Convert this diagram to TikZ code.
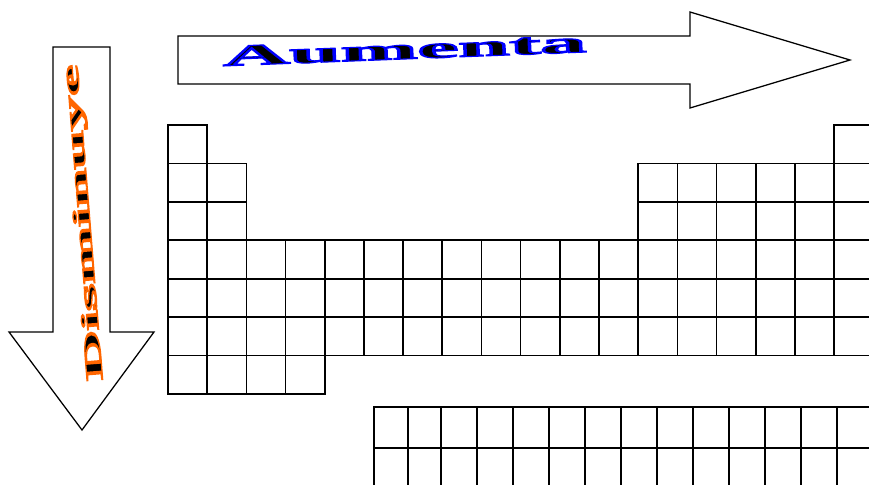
\documentclass[tikz,border=0pt]{standalone}
\usepackage{fontspec}
\setmainfont{Liberation Serif}
\usetikzlibrary{arrows.meta}

% text filled black, edge stroked in a colour (rgb, line width)
\newcommand{\edgedtext}[3]{\special{pdf:literal direct 2 Tr #2 w #1 RG}#3\special{pdf:literal direct 0 Tr}}

\begin{document}
\begin{tikzpicture}[x=0.025cm,y=-0.025cm,line join=miter,
  cell/.style={draw,line width=1.2pt},
  bigarrow/.style={draw,line width=0.9pt,fill=white}]
\useasboundingbox (0,0) rectangle (869,485);
\clip (0,0) rectangle (869,485);
% arrow pointing right
\coordinate (r0) at (178,36);
\coordinate (r1) at (690,36);
\coordinate (r2) at (690,12);
\coordinate (rt) at (850,60);
\coordinate (r3) at (690,108);
\coordinate (r4) at (690,84);
\coordinate (r5) at (178,84);
\draw[bigarrow] (r0) -- (r1) -- (r2) -- (rt) -- (r3) -- (r4) -- (r5) -- cycle;
% arrow pointing down
\coordinate (d0) at (53,47);
\coordinate (d1) at (110,47);
\coordinate (d2) at (110,332);
\coordinate (d3) at (154,332);
\coordinate (dt) at (82,430);
\coordinate (d4) at (9,332);
\coordinate (d5) at (53,332);
\draw[bigarrow] (d0) -- (d1) -- (d2) -- (d3) -- (dt) -- (d4) -- (d5) -- cycle;
\node[anchor=base,inner sep=0pt,rotate=2.2,xscale=3.12,font=\bfseries\fontsize{21}{21}\selectfont] (aumenta) at (405,59) {\edgedtext{0 0 1}{0.8}{Aumenta}};
\node[anchor=base,inner sep=0pt,rotate=94.6,xscale=2.9,font=\bfseries\fontsize{17}{17}\selectfont] (disminuye) at (90,222) {\edgedtext{1 0.4 0}{0.9}{Disminuye}};
% main table
\begin{scope}[shift={(168,125)},x=0.97925cm,y=-0.96075cm]
\draw[cell] (0,0) rectangle ++(1,1);
\draw[cell] (17,0) rectangle ++(1,1);
\foreach \c in {0,1,12,13,...,17}
  \foreach \r in {1,2}
    \draw[cell] (\c,\r) rectangle ++(1,1);
\foreach \c in {0,...,17}
  \foreach \r in {3,4,5}
    \draw[cell] (\c,\r) rectangle ++(1,1);
\foreach \c in {0,...,3}
  \draw[cell] (\c,6) rectangle ++(1,1);
\end{scope}
% lower block
\foreach \xa/\xb in {374.3/408.3,408.3/440.7,440.7/476.7,476.7/513,513/549,549/585.3,585.3/621.3,621.3/657.3,657.3/693.3,693.3/729.3,729.3/765.3,765.3/801.3,801.3/837.3,837.3/873.3}
  \foreach \ya in {406.7,447.7}
    \draw[cell] (\xa,\ya) rectangle (\xb,\ya+41);
\end{tikzpicture}
\end{document}
